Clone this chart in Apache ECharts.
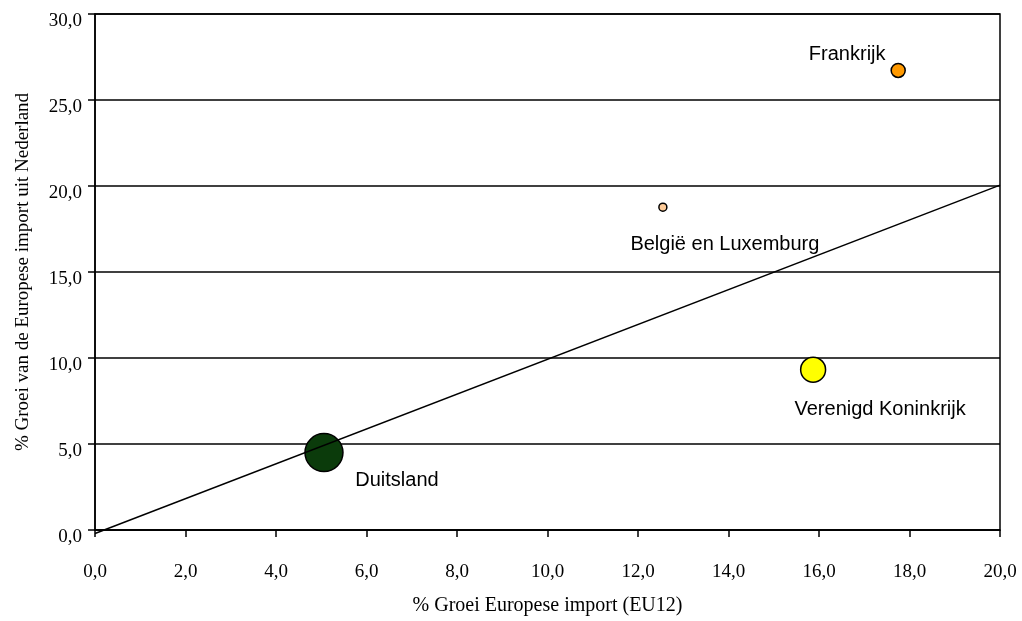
<!DOCTYPE html>
<html>
<head>
<meta charset="utf-8">
<script src="https://cdn.jsdelivr.net/npm/echarts@6/dist/echarts.min.js"></script>
<style>
  html, body { margin: 0; padding: 0; background: #ffffff; }
  #chart { width: 1022px; height: 621px; }
</style>
</head>
<body>
<div id="chart"></div>
<script>
// Growth of European imports vs. growth of imports from the Netherlands
const countries = ['Duitsland', 'België en Luxemburg', 'Frankrijk', 'Verenigd Koninkrijk'];
const importGrowthEU12 = [5.06, 12.55, 17.75, 15.87];
const importGrowthFromNL = [4.5, 18.77, 26.72, 9.32];
const importWeight = [100, 4.4, 13.6, 43];
const bubbleColors = ['#0B3B0B', '#FFCC99', '#FF9900', '#FFFF00'];

// reference line
const refLineX = [0, 20];
const refLineY = [-0.2, 20.05];

const xTicks = { min: 0, max: 20, step: 2 };
const yTicks = { min: 0, max: 30, step: 5 };

// label placement (relative to bubble centre)
const labelOffsets = [[73, 28], [62, 37], [-51, -16], [67, 40]];

const fmt = v => v.toFixed(1).replace('.', ',');
const serif = 'Liberation Serif, Times New Roman, serif';
const sans = 'Liberation Sans, Arial, sans-serif';

const points = countries.map((name, i) => ({
  name: name,
  value: [importGrowthEU12[i], importGrowthFromNL[i], importWeight[i]],
  itemStyle: { color: bubbleColors[i] },
  label: { offset: labelOffsets[i] }
}));

const chart = echarts.init(document.getElementById('chart'), null, { renderer: 'canvas' });
chart.setOption({
  backgroundColor: '#ffffff',
  animation: false,
  grid: {
    left: 95, right: 22, top: 14, bottom: 88,
    show: true, borderColor: '#000', borderWidth: 1.5, backgroundColor: 'transparent'
  },
  xAxis: {
    type: 'value',
    min: xTicks.min, max: xTicks.max, interval: xTicks.step,
    name: '% Groei Europese import (EU12)',
    nameLocation: 'middle', nameGap: 66,
    nameTextStyle: { fontFamily: serif, fontSize: 20, color: '#000' },
    axisLine: { show: true, lineStyle: { color: '#000', width: 1.5 } },
    axisTick: { show: true, length: 7, lineStyle: { color: '#000', width: 1.5 } },
    axisLabel: { formatter: fmt, margin: 33, fontFamily: serif, fontSize: 19, color: '#000' },
    splitLine: { show: false }
  },
  yAxis: {
    type: 'value',
    min: yTicks.min, max: yTicks.max, interval: yTicks.step,
    name: '% Groei van de Europese import uit Nederland',
    nameLocation: 'middle', nameGap: 62, nameRotate: 90,
    nameTextStyle: { fontFamily: serif, fontSize: 19, color: '#000' },
    axisLine: { show: true, lineStyle: { color: '#000', width: 1.5 } },
    axisTick: { show: true, length: 7, lineStyle: { color: '#000', width: 1.5 } },
    axisLabel: {
      formatter: fmt, margin: 13, fontFamily: serif, fontSize: 19, color: '#000',
      verticalAlign: 'top', lineHeight: 14
    },
    splitLine: { show: true, lineStyle: { color: '#000', width: 1.5 } }
  },
  series: [
    {
      type: 'scatter',
      z: 2,
      data: points,
      symbolSize: d => 38 * Math.sqrt(d[2] / 100),
      itemStyle: { borderColor: '#000', borderWidth: 1.5, opacity: 1 },
      label: {
        show: true, position: 'inside',
        formatter: p => p.name,
        fontFamily: sans, fontSize: 20, color: '#000'
      },
      emphasis: { disabled: true }
    },
    {
      type: 'line',
      z: 3,
      clip: false,
      data: refLineX.map((x, i) => [x, refLineY[i]]),
      symbol: 'none',
      lineStyle: { color: '#000', width: 1.5 },
      silent: true
    }
  ]
});
</script>
</body>
</html>
